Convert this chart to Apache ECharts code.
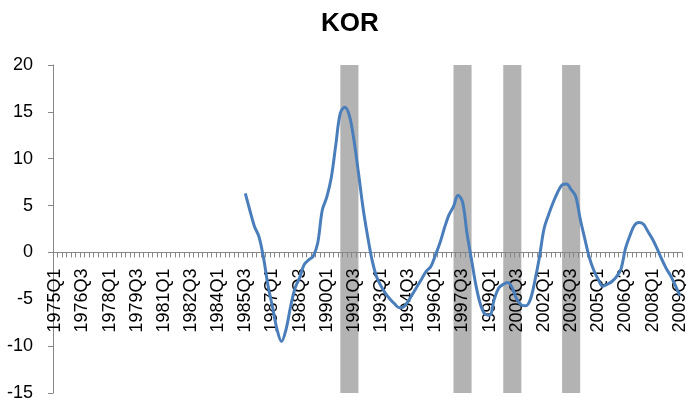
<!DOCTYPE html>
<html>
<head>
<meta charset="utf-8">
<script src="https://cdn.jsdelivr.net/npm/echarts@6/dist/echarts.min.js"></script>
<style>
html,body{margin:0;padding:0;background:#fff;}
#chart{width:686px;height:401px;}
</style>
</head>
<body>
<div id="chart"></div>
<script>
// Quarterly categories 1975Q1 .. 2009Q3
var startYear = 1975, endYear = 2009, endQuarter = 3;
var quarters = [];
for (var y = startYear; y <= endYear; y++) {
  for (var q = 1; q <= 4; q++) {
    if (y === endYear && q > endQuarter) break;
    quarters.push(y + 'Q' + q);
  }
}
// Series starts at 1985Q3
var seriesStart = '1985Q3';
var korValues = [
  6.3, 4.5, 2.8, 1.7, -0.5, -3.5, -5.8, -8.2, -9.5, -8.2,
  -5.8, -3.8, -2.7, -1.3, -0.8, -0.4, 1.0, 4.5, 5.9, 8.0,
  11.5, 14.9, 15.5, 14.6, 12.0, 8.5, 4.8, 1.8, -0.8, -2.6,
  -3.6, -4.4, -5.0, -5.5, -5.9, -5.8, -5.2, -4.4, -3.6, -2.8,
  -2.0, -1.5, -0.3, 1.0, 2.6, 4.0, 4.9, 6.1, 5.4, 2.0,
  -0.8, -3.6, -5.6, -6.6, -6.7, -5.0, -3.8, -3.4, -3.2, -3.8,
  -5.0, -5.6, -5.7, -5.0, -3.0, -0.5, 2.5, 4.0, 5.3, 6.4,
  7.2, 7.3, 6.7, 6.0, 3.6, 1.5, -0.5, -1.9, -2.9, -3.6,
  -3.4, -3.1, -2.6, -1.8, 0.4, 1.8, 2.9, 3.2, 3.0, 2.2,
  1.4, 0.4, -0.7, -1.7, -2.5, -3.5, -4.6
];
// Shaded periods (start category, end category)
var shadeStart = ['1990Q4', '1997Q1', '1999Q4', '2003Q1'];
var shadeEnd   = ['1991Q4', '1998Q1', '2000Q4', '2004Q1'];
var yTicks = { min: -15, max: 20, interval: 5 };

var offset = quarters.indexOf(seriesStart);
var lineData = quarters.map(function (c, i) {
  var k = i - offset;
  return (k >= 0 && k < korValues.length) ? korValues[k] : null;
});
var emptyData = quarters.map(function () { return null; });
var areas = shadeStart.map(function (s, i) {
  return [{ xAxis: s }, { xAxis: shadeEnd[i] }];
});

var W = 686, H = 401;
var gridTop = 65, gridBottom = 8, gridLeft = 53, gridRight = 4;
var gridH = H - gridTop - gridBottom;
// move the category axis up to the value 0
var zeroShift = gridH * (0 - yTicks.min) / (yTicks.max - yTicks.min);

var font = 'Liberation Sans';
var chart = echarts.init(document.getElementById('chart'), null, { renderer: 'canvas' });
chart.setOption({
  animation: false,
  backgroundColor: '#ffffff',
  title: {
    text: 'KOR',
    left: 316,
    top: 6,
    textStyle: { fontFamily: font, fontSize: 26, fontWeight: 'bold', color: '#000' }
  },
  grid: { left: gridLeft, right: gridRight, top: gridTop, bottom: gridBottom, containLabel: false, outerBoundsMode: 'none' },
  xAxis: {
    type: 'category',
    data: quarters,
    boundaryGap: true,
    offset: -zeroShift,
    z: 3,
    axisLine: { onZero: false, lineStyle: { color: '#868686', width: 1 } },
    axisTick: { show: true, interval: 0, length: 5, lineStyle: { color: '#868686' } },
    axisLabel: {
      interval: 5, rotate: 90, margin: 16,
      fontFamily: font, fontSize: 18, color: '#000'
    },
    splitLine: { show: false }
  },
  yAxis: {
    type: 'value',
    min: yTicks.min, max: yTicks.max, interval: yTicks.interval,
    z: 3,
    axisLine: { show: true, lineStyle: { color: '#868686', width: 1 } },
    axisTick: { show: true, length: 5, lineStyle: { color: '#868686' } },
    axisLabel: { margin: 20, fontFamily: font, fontSize: 18, color: '#000' },
    splitLine: { show: false }
  },
  series: [
    {
      name: 'shade',
      type: 'line',
      data: emptyData,
      symbol: 'none',
      z: 1,
      lineStyle: { width: 0 },
      markArea: {
        silent: true,
        z: 1,
        itemStyle: { color: '#B3B3B3', opacity: 1 },
        data: areas
      }
    },
    {
      name: 'KOR',
      type: 'line',
      data: lineData,
      smooth: 0.35,
      symbol: 'none',
      connectNulls: false,
      z: 5,
      lineStyle: { color: '#4A7EBB', width: 3 }
    }
  ]
});
</script>
</body>
</html>
